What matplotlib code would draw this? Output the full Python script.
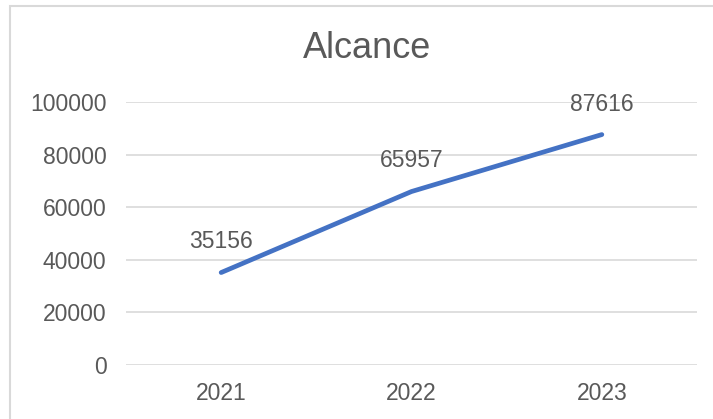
import matplotlib.pyplot as plt
from matplotlib.patches import Rectangle

plt.rcParams['font.family'] = ['Liberation Sans', 'DejaVu Sans']

anos = ["2021", "2022", "2023"]
alcance = [35156, 65957, 87616]
yticks = [0, 20000, 40000, 60000, 80000, 100000]

gris = '#595959'
azul = '#4472C4'
rejilla = '#D9D9D9'

fig = plt.figure(figsize=(7.13, 4.19), dpi=100)
ax = fig.add_axes([126 / 713, 54 / 419, 571 / 713, 263 / 419])

# borde del grafico (solo arriba e izquierda son visibles)
fig.patches.append(Rectangle((9.5 / 713, -0.1), 1.2, (419 - 6.5) / 419 + 0.1,
                             transform=fig.transFigure, fill=False,
                             edgecolor=rejilla, linewidth=1.5))

x = list(range(len(anos)))
ax.plot(x, alcance, color=azul, linewidth=3.4, solid_capstyle='round', zorder=3)

for xi, v in zip(x, alcance):
    ax.annotate(str(v), (xi, v), xytext=(0, 22), textcoords='offset points',
                ha='center', va='center', fontsize=16.5, color=gris)

ax.set_xlim(-0.5, 2.5)
ax.set_ylim(0, 100000)
ax.set_xticks(x)
ax.set_xticklabels(anos)
ax.set_yticks(yticks)
ax.set_yticklabels([str(t) for t in yticks])
ax.tick_params(axis='both', length=0, labelsize=16.5, labelcolor=gris)
ax.tick_params(axis='y', pad=14)
ax.tick_params(axis='x', pad=12)
ax.grid(axis='y', color=rejilla, linewidth=1.2)
ax.set_axisbelow(True)
for s in ax.spines.values():
    s.set_visible(False)

fig.text(367 / 713, 1 - 48 / 419, "Alcance", ha='center', va='center',
         fontsize=26, color=gris)

fig.savefig("out.png", dpi=100)
